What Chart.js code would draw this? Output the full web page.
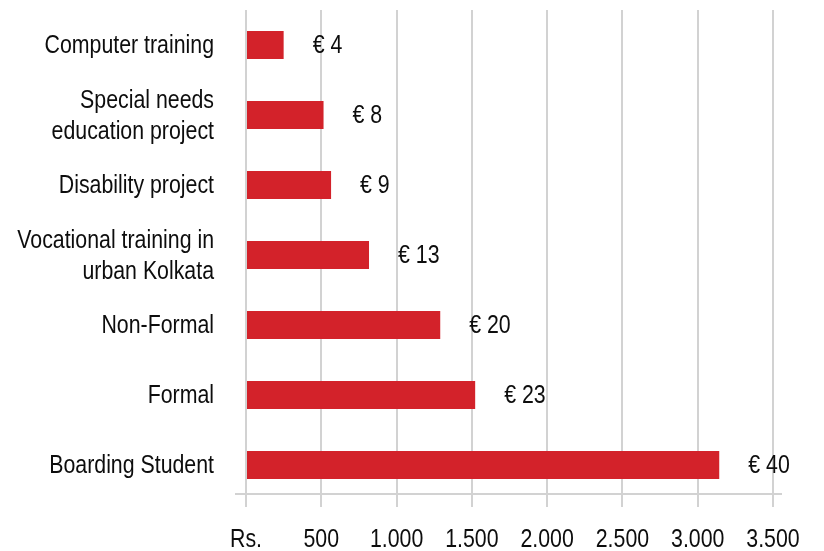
<!DOCTYPE html>
<html>
<head>
<meta charset="utf-8">
<script src="https://cdn.jsdelivr.net/npm/chart.js@4"></script>
<style>
  html, body { margin: 0; padding: 0; background: #ffffff; }
  #wrap { width: 824px; height: 551px; }
</style>
</head>
<body>
<div id="wrap"><canvas id="c" width="824" height="551"></canvas></div>
<script>
// ---- data ----
const categories = [
  'Computer training',
  ['Special needs', 'education project'],
  'Disability project',
  ['Vocational training in', 'urban Kolkata'],
  'Non-Formal',
  'Formal',
  'Boarding Student'
];
const rupeeValues = [250, 515, 565, 817, 1290, 1522, 3143];
const euroLabels = ['€ 4', '€ 8', '€ 9', '€ 13', '€ 20', '€ 23', '€ 40'];
const xTickLabels = ['Rs.', '500', '1.000', '1.500', '2.000', '2.500', '3.000', '3.500'];

// ---- styles ----
const FONT = "26px 'Liberation Sans', Arial, sans-serif";
const NARROW = 0.82;          // horizontal condensing to imitate a narrow face
const LINE_GAP = 31;
const TEXT_COLOR = '#0d0d0d';
const GRID_COLOR = '#d2d2d2';
const BAR_COLOR = '#d3222a';

function narrowText(ctx, text, x, y, align) {
  ctx.save();
  ctx.translate(x, y);
  ctx.scale(NARROW, 1);
  ctx.textAlign = align;
  ctx.textBaseline = 'alphabetic';
  ctx.fillText(text, 0, 0);
  ctx.restore();
}

const textPlugin = {
  id: 'narrowTexts',
  afterDatasetsDraw(chart) {
    const ctx = chart.ctx;
    const a = chart.chartArea;
    const xs = chart.scales.x;
    const ys = chart.scales.y;
    ctx.save();
    ctx.font = FONT;
    ctx.fillStyle = TEXT_COLOR;

    // category labels
    categories.forEach((lab, i) => {
      const lines = Array.isArray(lab) ? lab : [lab];
      const cy = ys.getPixelForTick(i);
      const first = cy + 8 - (lines.length - 1) * LINE_GAP / 2;
      lines.forEach((ln, k) => narrowText(ctx, ln, a.left - 32, first + k * LINE_GAP, 'right'));
    });

    // x tick labels
    xs.ticks.forEach((t, i) => {
      narrowText(ctx, xTickLabels[i], xs.getPixelForValue(t.value), 547, 'center');
    });

    // value labels
    const meta = chart.getDatasetMeta(0);
    meta.data.forEach((bar, i) => {
      narrowText(ctx, euroLabels[i], bar.x + 29, bar.y + 8, 'left');
    });
    ctx.restore();
  }
};

const axisLinePlugin = {
  id: 'axisLine',
  beforeDatasetsDraw(chart) {
    const ctx = chart.ctx;
    const a = chart.chartArea;
    ctx.save();
    ctx.strokeStyle = GRID_COLOR;
    ctx.lineWidth = 2;
    ctx.beginPath();
    ctx.moveTo(a.left - 11, a.bottom - 6);
    ctx.lineTo(a.right + 9, a.bottom - 6);
    ctx.stroke();
    ctx.restore();
  }
};

new Chart(document.getElementById('c'), {
  type: 'bar',
  data: {
    labels: categories,
    datasets: [{
      data: rupeeValues,
      backgroundColor: BAR_COLOR,
      borderWidth: 0,
      categoryPercentage: 1.0,
      barPercentage: 0.4
    }]
  },
  options: {
    indexAxis: 'y',
    responsive: false,
    animation: false,
    devicePixelRatio: 1,
    layout: { padding: { top: 10, right: 51, bottom: 0, left: 0 } },
    plugins: {
      legend: { display: false },
      tooltip: { enabled: false },
      title: { display: false }
    },
    scales: {
      x: {
        type: 'linear',
        min: 0,
        max: 3500,
        afterFit(scale) { scale.height = 51; },
        ticks: { stepSize: 500, display: false },
        grid: {
          color: GRID_COLOR,
          lineWidth: 2,
          drawTicks: true,
          tickLength: 7
        },
        border: { display: false }
      },
      y: {
        afterFit(scale) { scale.width = 246; },
        ticks: { display: false },
        grid: { display: false },
        border: { display: false }
      }
    }
  },
  plugins: [axisLinePlugin, textPlugin]
});
</script>
</body>
</html>
